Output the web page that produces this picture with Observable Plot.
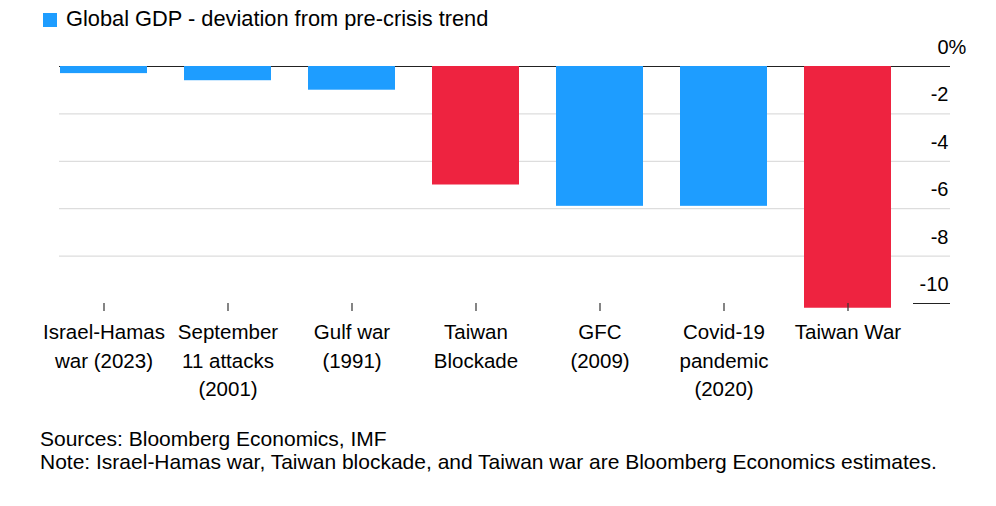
<!DOCTYPE html>
<html>
<head>
<meta charset="utf-8">
<script src="https://cdn.jsdelivr.net/npm/d3@7"></script>
<script src="https://cdn.jsdelivr.net/npm/@observablehq/plot@0.6"></script>
<style>
  html, body { margin: 0; padding: 0; background: #fff; }
  #wrap { position: relative; width: 996px; height: 506px; font-family: "Liberation Sans", Arial, Helvetica, sans-serif; color: #000; overflow: hidden; }
  .abs { position: absolute; white-space: nowrap; line-height: 1; }
  #legend-swatch { left: 43px; top: 13px; width: 14px; height: 14px; background: #1e9dff; }
  #legend-text { left: 66px; top: 8px; font-size: 21.8px; }
  #chart { position: absolute; left: 0; top: 30px; }
  #sources { left: 40px; top: 428px; font-size: 21px; }
  #note { left: 40px; top: 451px; font-size: 21px; }
</style>
</head>
<body>
<div id="wrap">
  <div class="abs" id="legend-swatch"></div>
  <div class="abs" id="legend-text">Global GDP - deviation from pre-crisis trend</div>
  <div id="chart"></div>
  <div class="abs" id="sources">Sources: Bloomberg Economics, IMF</div>
  <div class="abs" id="note">Note: Israel-Hamas war, Taiwan blockade, and Taiwan war are Bloomberg Economics estimates.</div>
</div>
<script>
// ---- data ----
const categories = ["Israel-Hamas war (2023)", "September 11 attacks (2001)", "Gulf war (1991)", "Taiwan Blockade", "GFC (2009)", "Covid-19 pandemic (2020)", "Taiwan War"];
const categoryLabels = ["Israel-Hamas\nwar (2023)", "September\n11 attacks\n(2001)", "Gulf war\n(1991)", "Taiwan\nBlockade", "GFC\n(2009)", "Covid-19\npandemic\n(2020)", "Taiwan War"];
const gdpDeviation = [-0.3, -0.6, -1.0, -5.0, -5.9, -5.9, -10.2];
const scenarios = ["Taiwan Blockade", "Taiwan War"];
const yTicks = [0, -2, -4, -6, -8, -10];
const yGrid = [-2, -4, -6, -8];

const BLUE = "#1e9dff";
const RED = "#ee2340";

const data = categories.map((c, i) => ({name: c, label: categoryLabels[i], value: gdpDeviation[i]}));

const chart = Plot.plot({
  width: 996,
  height: 390,
  marginLeft: 59,
  marginRight: 105,
  marginTop: 36,
  marginBottom: 117,
  style: {fontFamily: "'Liberation Sans', Arial, Helvetica, sans-serif", color: "#000", background: "#fff"},
  x: {domain: categories, paddingInner: 0.3, paddingOuter: 0, label: null},
  y: {domain: [-10, 0], axis: null, label: null},
  marks: [
    Plot.ruleY(yGrid, {stroke: "#dddddd", strokeWidth: 1.3, insetRight: -59}),
    Plot.ruleY([0], {stroke: "#222", strokeWidth: 1.2, insetRight: -59}),
    Plot.ruleY([-10], {stroke: "#222", strokeWidth: 1.2, insetLeft: 854, insetRight: -59}),
    Plot.barY(data, {x: "name", y: "value", fill: d => scenarios.includes(d.name) ? RED : BLUE}),
    Plot.axisX({tickSize: 8, tickFormat: () => "", label: null, stroke: "#333", strokeWidth: 1.2}),
    Plot.text(data, {x: "name", text: "label", frameAnchor: "bottom", lineAnchor: "top", dy: 16, fontSize: 20.5, lineHeight: 1.37, fill: "#000"}),
    Plot.text(yTicks, {y: d => d, text: d => String(d), frameAnchor: "right", dx: 57, dy: -19, textAnchor: "end", fontSize: 20, fill: "#000"}),
    Plot.text([0], {y: d => d, text: () => "%", frameAnchor: "right", dx: 57, dy: -19, textAnchor: "start", fontSize: 20, fill: "#000"})
  ]
});
document.getElementById("chart").appendChild(chart);
</script>
</body>
</html>
